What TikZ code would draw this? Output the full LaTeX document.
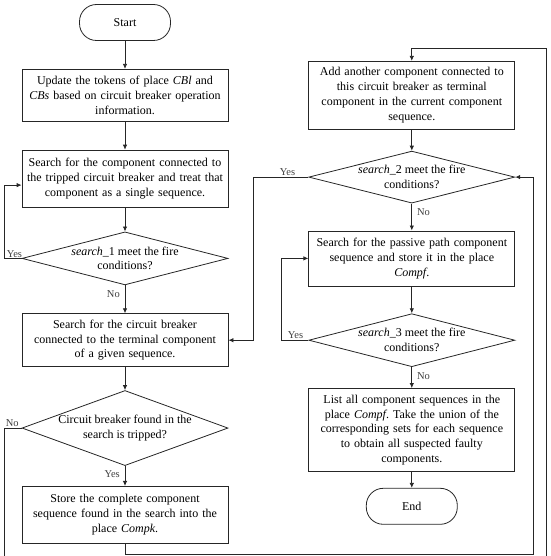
\documentclass[tikz,border=0pt]{standalone}
\usepackage{fontspec}
\setmainfont{Liberation Serif}
\usetikzlibrary{arrows.meta,positioning,calc,shapes.geometric}
\frenchspacing

\begin{document}
\begin{tikzpicture}[
  font=\fontsize{12}{14.8}\selectfont,
  bx/.style={draw=black!85, line width=0.8pt, align=center,
    text width=203pt, inner xsep=1.5pt, inner ysep=3pt},
  term/.style={draw=black!85, line width=0.8pt, rounded corners=17pt,
    minimum width=91pt, minimum height=36pt},
  dec/.style={diamond, draw=black!85, line width=0.8pt, align=center,
    minimum width=206pt, minimum height=54pt, inner xsep=-30pt, inner ysep=-12pt},
  arr/.style={-{Latex[length=5pt,width=4.5pt]}, line width=0.8pt, draw=black!85},
  lbl/.style={font=\fontsize{10.5}{12}\selectfont, text=black!75, inner sep=1pt}
]
\useasboundingbox (0,0) rectangle (550pt,-556pt);
% left column
\node[term] (st) at (125pt,-22.5pt) {Start};
\node[bx, minimum height=52pt, below=28pt of st] (b1) {Update the tokens of place \textit{CBl} and\\\textit{CBs} based on circuit breaker operation\\information.};
\node[bx, minimum height=57pt, below=28pt of b1] (b2) {Search for the component connected to\\the tripped circuit breaker and treat that\\component as a single sequence.};
\node[dec, minimum height=53pt, below=24pt of b2] (d1) {\textit{search}\_1 meet the fire\\conditions?};
\node[bx, minimum height=53pt, below=28pt of d1] (b3) {Search for the circuit breaker\\connected to the terminal component\\of a given sequence.};
\node[dec, minimum height=64pt, below=23pt of b3] (d2) {Circuit breaker found in the\\search is tripped?};
\node[bx, minimum height=57pt, below=20pt of d2] (b4) {Store the complete component\\sequence found in the search into the\\place \textit{Compk}.};
% right column
\node[bx, minimum height=68pt, right=80pt of b1] (r1) {Add another component connected to\\this circuit breaker as terminal\\component in the current component\\sequence.};
\node[dec, minimum height=52pt, below=21pt of r1] (d3) {\textit{search}\_2 meet the fire\\conditions?};
\node[bx, minimum height=55pt, below=27pt of d3] (r2) {Search for the passive path component\\sequence and store it in the place\\\textit{Compf}.};
\node[dec, minimum height=53pt, below=27pt of r2] (d4) {\textit{search}\_3 meet the fire\\conditions?};
\node[bx, minimum height=83pt, below=21pt of d4] (r3) {List all component sequences in the\\place \textit{Compf}. Take the union of the\\corresponding sets for each sequence\\to obtain all suspected faulty\\components.};
\node[term, below=16pt of r3] (en) {End};
% straight arrows
\draw[arr] (st) -- (b1);
\draw[arr] (b1) -- (b2);
\draw[arr] (b2) -- (d1);
\draw[arr] (d1) -- (b3);
\draw[arr] (b3) -- (d2);
\draw[arr] (d2) -- (b4);
\draw[arr] (r1) -- (d3);
\draw[arr] (d3) -- (r2);
\draw[arr] (r2) -- (d4);
\draw[arr] (d4) -- (r3);
\draw[arr] (r3) -- (en);
% loops
\draw[arr] (d1.west) -- ++(-17pt,0) |- ([yshift=-6.5pt]b2.west);
\draw[arr] (d3.west) -- ++(-55pt,0) |- (b3.east);
\draw[arr] (d4.west) -- ++(-27pt,0) |- (r2.west);
\draw[arr] (b4.south) -- ++(0,-11pt) -| ([xshift=18pt]d3.east) -- (d3.east);
\draw[arr] (d2.west) -- ++(-17pt,0) |- ($(b4.south)+(421pt,-25pt)$)
  |- ([yshift=12pt]r1.north) -- (r1.north);
% labels
\node[lbl, anchor=south west] (y1) at ([xshift=-16pt]d1.west) {Yes};
\node[lbl, anchor=north east] (n1) at ([xshift=-4pt,yshift=-4pt]d1.south) {No};
\node[lbl, anchor=south west] (n2) at ([xshift=-17pt]d2.west) {No};
\node[lbl, anchor=north east] (y2) at ([xshift=-4pt,yshift=-3pt]d2.south) {Yes};
\node[lbl, anchor=south east] (y3) at ([xshift=-12pt]d3.west) {Yes};
\node[lbl, anchor=north west] (n3) at ([xshift=4pt,yshift=-4pt]d3.south) {No};
\node[lbl, anchor=south east] (y4) at ([xshift=-4pt]d4.west) {Yes};
\node[lbl, anchor=north west] (n4) at ([xshift=4pt,yshift=-4pt]d4.south) {No};
\end{tikzpicture}
\end{document}
